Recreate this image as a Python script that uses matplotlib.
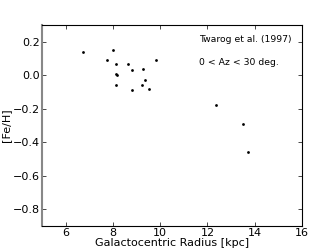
import matplotlib
matplotlib.use("Agg")
import matplotlib.pyplot as plt

radius = [6.72, 8.00, 7.76, 8.15, 8.65, 9.82, 8.80, 9.26, 8.14, 8.18, 9.37, 8.14, 9.23, 9.51, 8.79, 12.37, 13.51, 13.71]
feh = [0.14, 0.15, 0.09, 0.07, 0.07, 0.09, 0.03, 0.04, 0.01, 0.00, -0.03, -0.06, -0.06, -0.08, -0.09, -0.18, -0.29, -0.46]
xticks = [6, 8, 10, 12, 14, 16]
yticks = [-0.8, -0.6, -0.4, -0.2, 0.0, 0.2]

fs = 8
fig = plt.figure(figsize=(3.36, 2.52), dpi=100)
ax = fig.add_axes([42/336, 1-226/252, 260/336, 201/252])
ax.plot(radius, feh, 'o', color='black', markersize=2.0, markeredgewidth=0)
ax.set_xlim(5, 16)
ax.set_ylim(-0.9, 0.3)
ax.set_xticks(xticks)
ax.set_yticks(yticks)
ax.set_yticklabels(['\u2212%.1f' % abs(v) if v < 0 else '%.1f' % v for v in yticks])
ax.tick_params(direction='in', top=True, right=True, labelsize=fs, length=3, width=0.5, pad=1.5)
for s in ax.spines.values():
    s.set_linewidth(0.8)
ax.spines['left'].set_color('#888888')
ax.spines['left'].set_linewidth(1.5)
ax.set_xlabel('Galactocentric Radius [kpc]', fontsize=fs, labelpad=0)
ax.set_ylabel('[Fe/H]', fontsize=fs, labelpad=1)
ax.text(0.605, 0.93, 'Twarog et al. (1997)', transform=ax.transAxes, fontsize=6.7, va='center', ha='left')
ax.text(0.605, 0.815, '0 < Az < 30 deg.', transform=ax.transAxes, fontsize=6.7, va='center', ha='left')
fig.savefig('out.png', dpi=100)
